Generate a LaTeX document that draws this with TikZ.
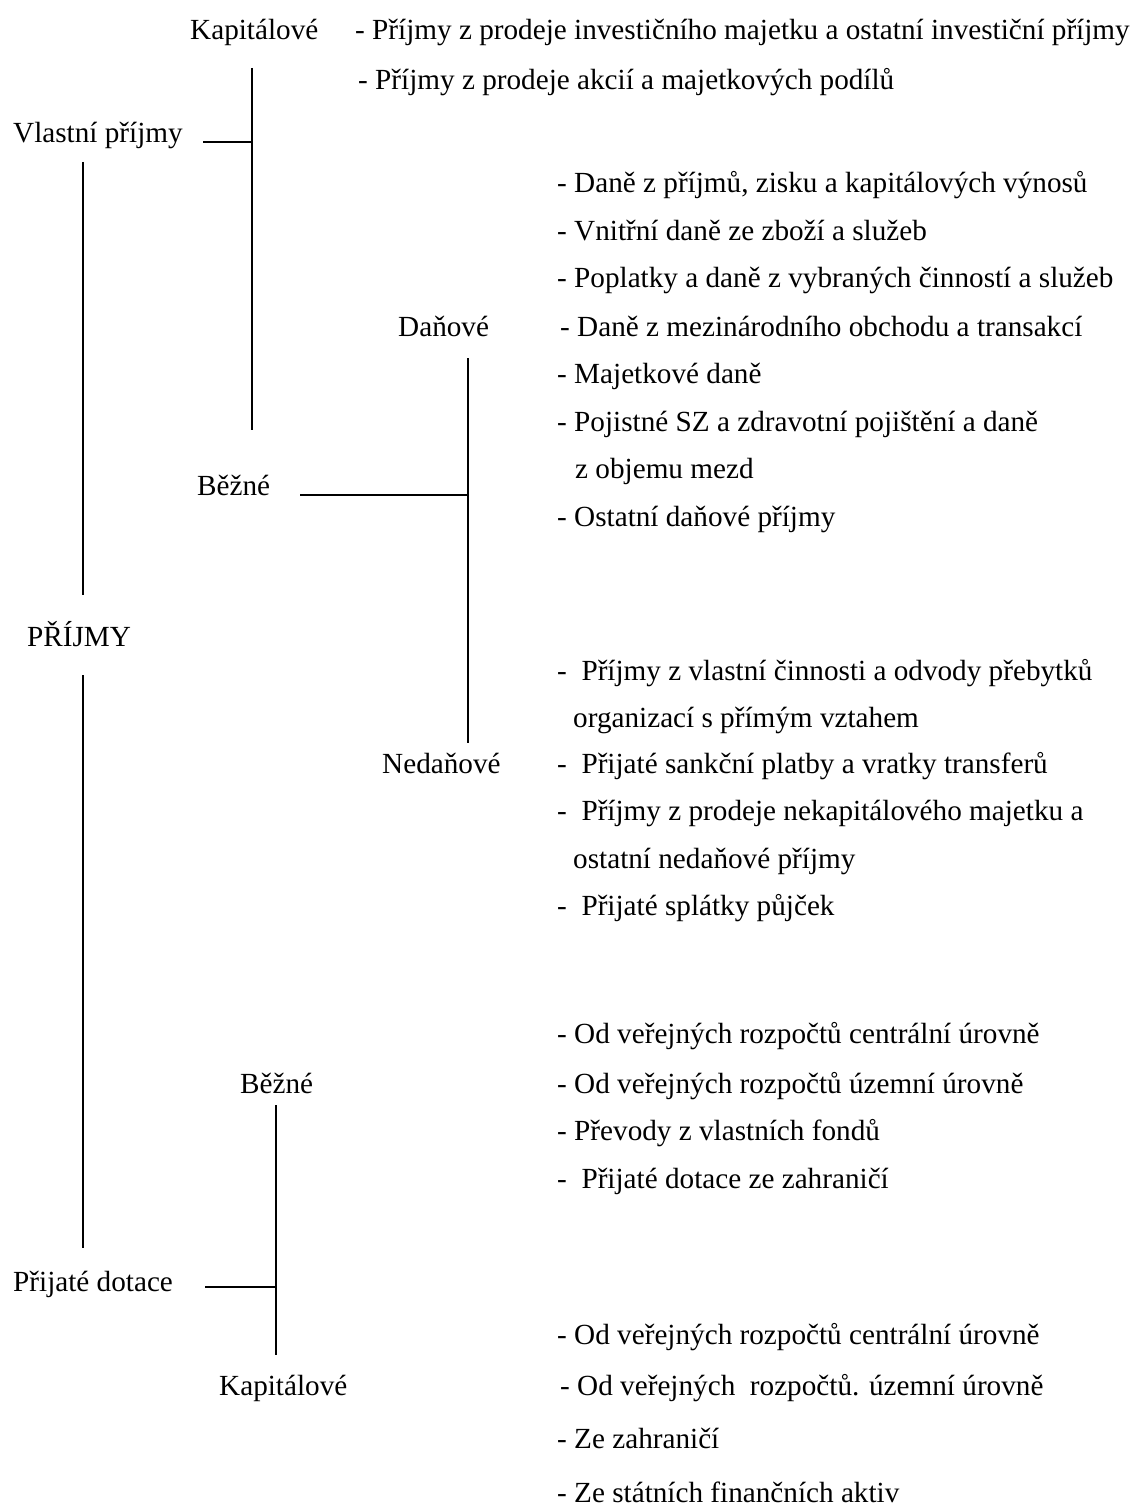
\documentclass[tikz,border=0pt]{standalone}
\usepackage{fontspec}
\setmainfont{Liberation Serif}
\begin{document}
\begin{tikzpicture}[x=1pt,y=-1pt,
  every node/.style={anchor=base west,inner sep=0pt,font=\fontsize{29.2}{35}\selectfont},
  branch/.style={line width=2pt}]
\useasboundingbox (0,0) rectangle (1135,1511);

% Vlastní příjmy - kapitálové
\node (vlastni) at (13,143) {Vlastní příjmy};
\node (kap1) at (190,40) {Kapitálové};
\node (kap1a) at (355,40) {- Příjmy z prodeje investičního majetku a ostatní investiční příjmy};
\node (kap1b) at (358,90) {- Příjmy z prodeje akcií a majetkových podílů};

% Vlastní příjmy - běžné, daňové
\node (bezne1) at (197,495) {Běžné};
\node (danove) at (398,336) {Daňové};
\node (dan1) at (557,193) {- Daně z příjmů, zisku a kapitálových výnosů};
\node (dan2) at (557,241) {- Vnitřní daně ze zboží a služeb};
\node (dan3) at (557,288) {- Poplatky a daně z vybraných činností a služeb};
\node (dan4) at (560,336) {- Daně z mezinárodního obchodu a transakcí};
\node (dan5) at (557,383) {- Majetkové daně};
\node (dan6) at (557,431) {- Pojistné SZ a zdravotní pojištění a daně};
\node (dan6b) at (575,478) {z objemu mezd};
\node (dan7) at (557,526) {- Ostatní daňové příjmy};

% Nedaňové
\node (nedanove) at (382,773) {Nedaňové};
\node (ned1) at (557,680) {-\ \ Příjmy z vlastní činnosti a odvody přebytků};
\node (ned1b) at (573,727) {organizací s přímým vztahem};
\node (ned2) at (557,773) {-\ \ Přijaté sankční platby a vratky transferů};
\node (ned3) at (557,820) {-\ \ Příjmy z prodeje nekapitálového majetku a};
\node (ned3b) at (573,868) {ostatní nedaňové příjmy};
\node (ned4) at (557,915) {-\ \ Přijaté splátky půjček};

% kořen
\node (prijmy) at (27,646) {PŘÍJMY};

% Přijaté dotace
\node (dotace) at (13,1291) {Přijaté dotace};
\node (bezne2) at (240,1093) {Běžné};
\node (bd1) at (557,1043) {- Od veřejných rozpočtů centrální úrovně};
\node (bd2) at (557,1093) {- Od veřejných rozpočtů územní úrovně};
\node (bd3) at (557,1140) {- Převody z vlastních fondů};
\node (bd4) at (557,1188) {-\ \ Přijaté dotace ze zahraničí};
\node (kap2) at (219,1395) {Kapitálové};
\node (kd1) at (557,1344) {- Od veřejných rozpočtů centrální úrovně};
\node (kd2) at (560,1395) {- Od veřejných\ \ rozpočtů. územní úrovně};
\node (kd3) at (557,1448) {- Ze zahraničí};
\node (kd4) at (557,1502) {- Ze státních finančních aktiv};

% spojnice
\coordinate (k1-top) at (252,68);
\coordinate (k1-bot) at (252,430);
\coordinate (vp-end) at (203,142);
\coordinate (vp-joint) at (252,142);
\coordinate (r-top1) at (83,162);
\coordinate (r-bot1) at (83,595);
\coordinate (r-top2) at (83,675);
\coordinate (r-bot2) at (83,1248);
\coordinate (b1-end) at (300,495);
\coordinate (b1-joint) at (468,495);
\coordinate (d-top) at (468,358);
\coordinate (d-bot) at (468,743);
\coordinate (b2-top) at (276,1105);
\coordinate (b2-bot) at (276,1355);
\coordinate (pd-end) at (205,1287);
\coordinate (pd-joint) at (276,1287);

\draw[branch] (k1-top) -- (k1-bot);
\draw[branch] (vp-end) -- (vp-joint);
\draw[branch] (r-top1) -- (r-bot1);
\draw[branch] (r-top2) -- (r-bot2);
\draw[branch] (b1-end) -- (b1-joint);
\draw[branch] (d-top) -- (d-bot);
\draw[branch] (b2-top) -- (b2-bot);
\draw[branch] (pd-end) -- (pd-joint);
\end{tikzpicture}
\end{document}
